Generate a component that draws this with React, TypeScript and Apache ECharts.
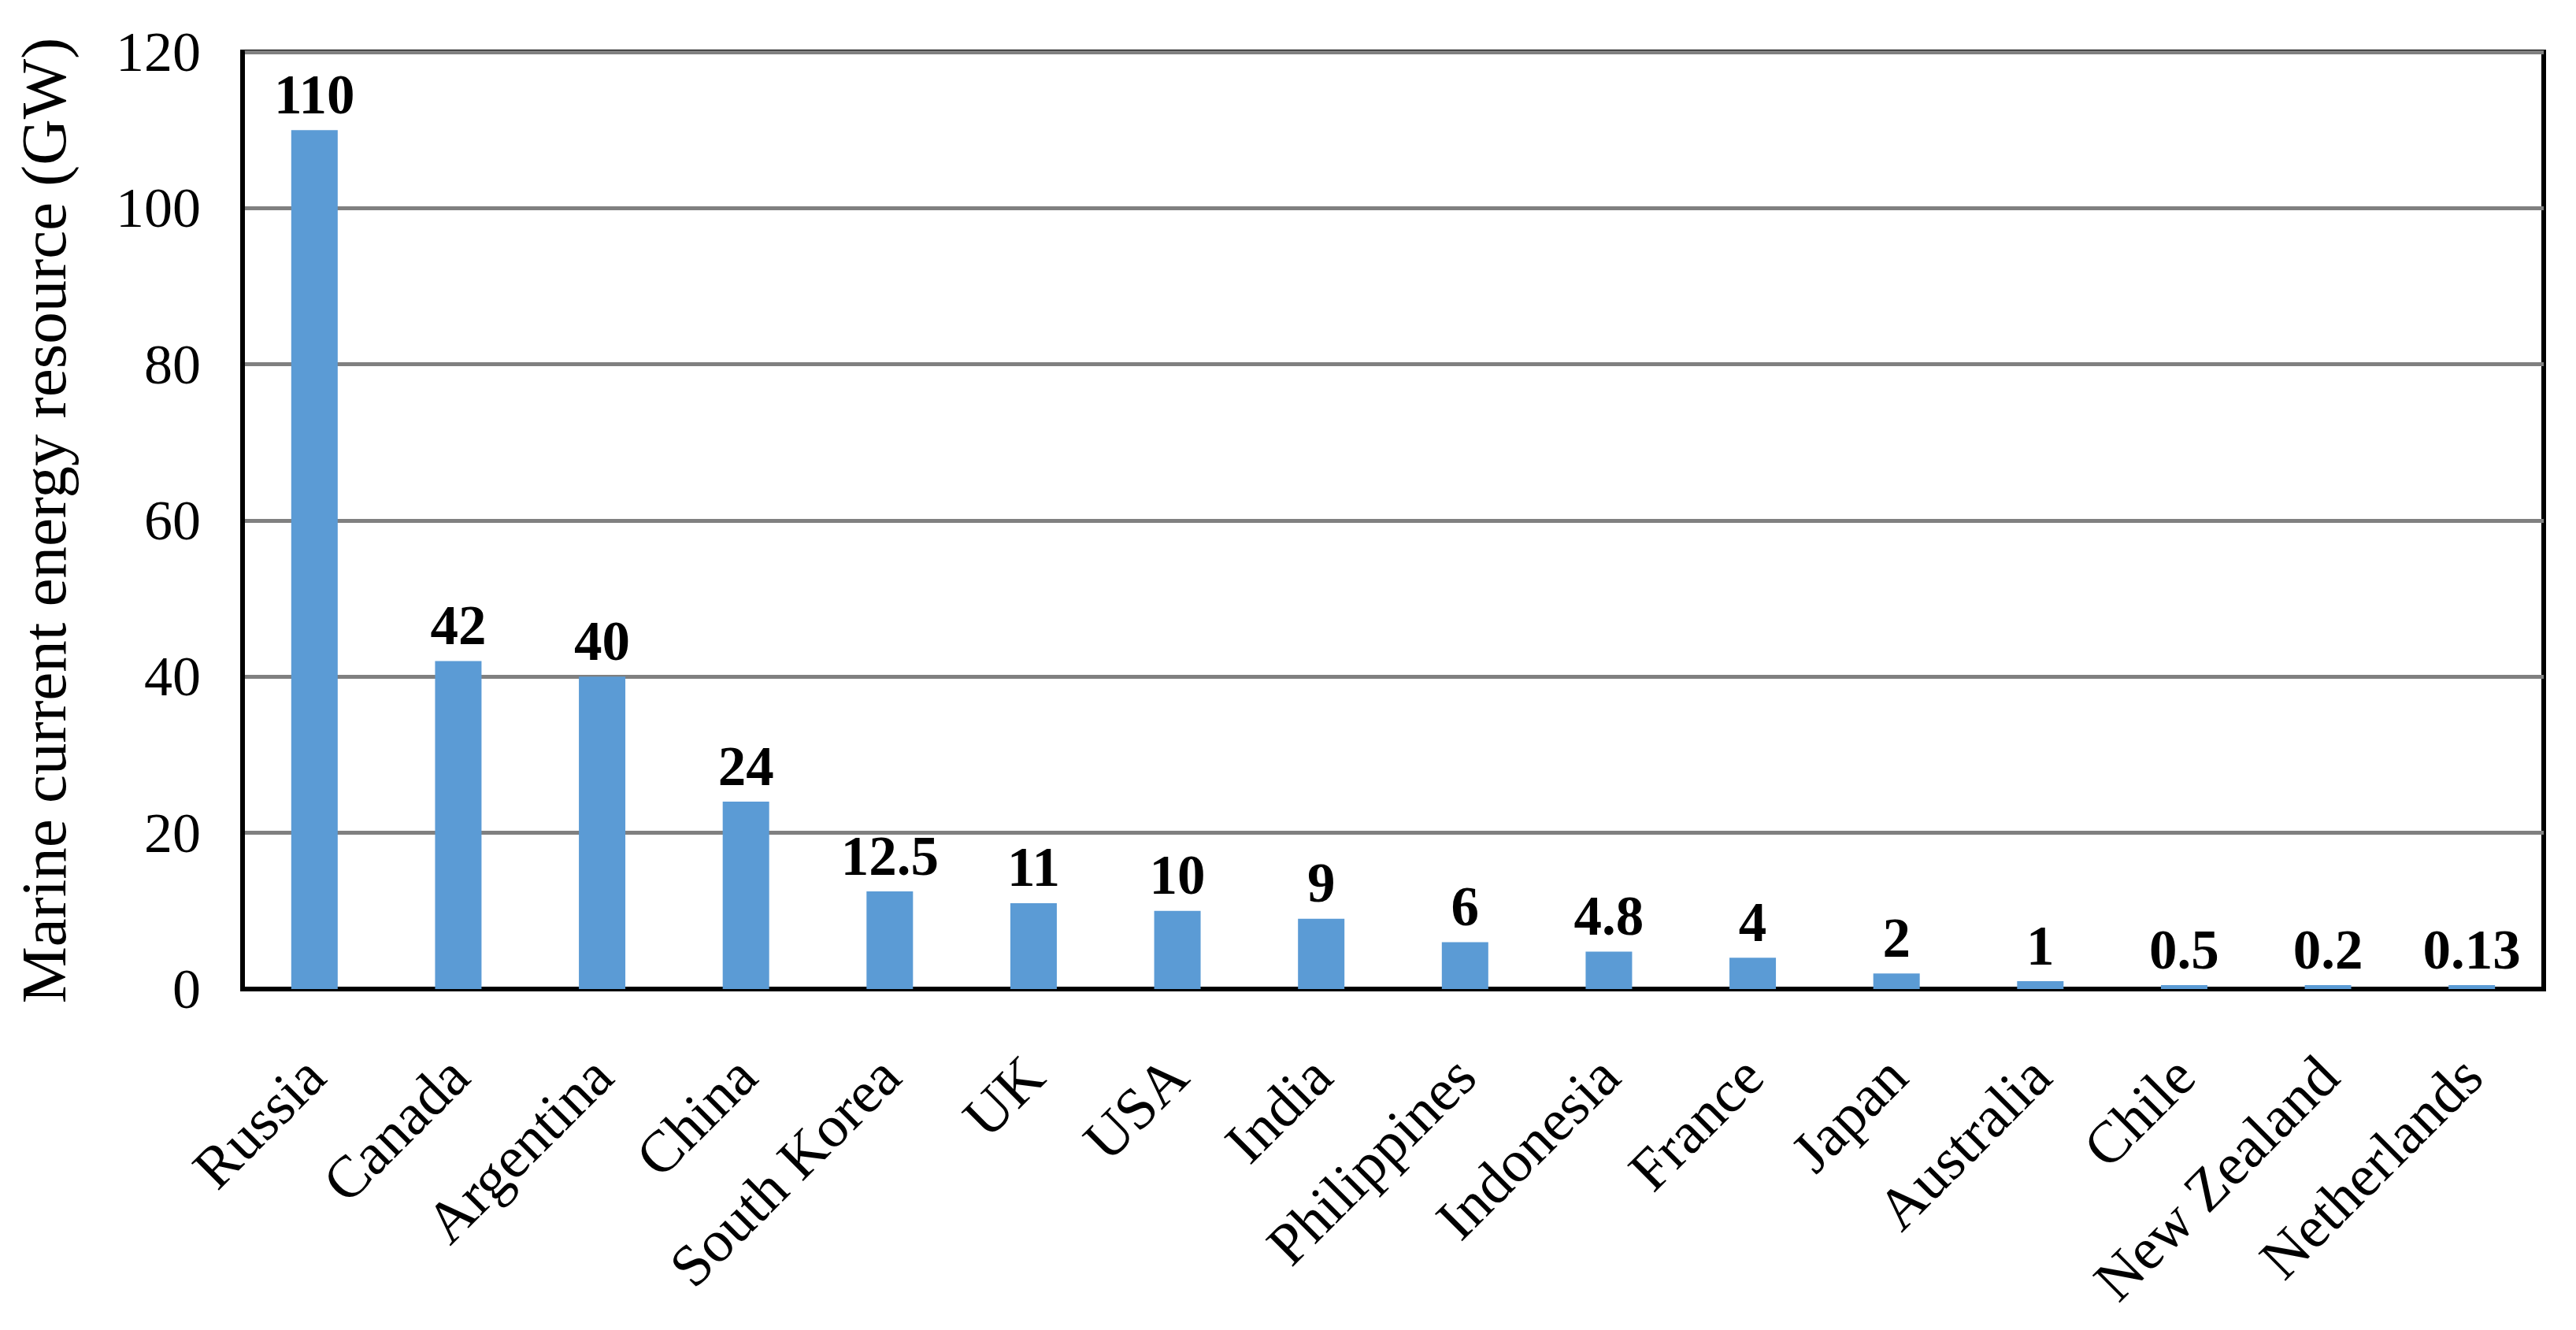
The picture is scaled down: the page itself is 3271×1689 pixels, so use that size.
import React, { useEffect, useRef } from "react";
import * as echarts from "echarts";

const categories = [
  "Russia", "Canada", "Argentina", "China", "South Korea", "UK", "USA", "India",
  "Philippines", "Indonesia", "France", "Japan", "Australia", "Chile", "New Zealand", "Netherlands",
];
const values = [110, 42, 40, 24, 12.5, 11, 10, 9, 6, 4.8, 4, 2, 1, 0.5, 0.2, 0.13];
const yTicks = { min: 0, max: 120, interval: 20 };
const yTitle = "Marine current energy resource (GW)";

const FONT = "'Liberation Serif', 'Times New Roman', serif";

export default function App() {
  const ref = useRef<HTMLDivElement>(null);
  useEffect(() => {
    document.body.style.margin = "0";
    const chart = echarts.init(ref.current!, null, { renderer: "svg" });
    chart.setOption({
      animation: false,
      backgroundColor: "#fff",
      grid: {
        left: 308,
        right: 41,
        top: 66,
        bottom: 433,
        show: true,
        borderColor: "#000",
        borderWidth: 6,
        containLabel: false,
      },
      xAxis: {
        type: "category",
        data: categories,
        axisLine: { show: true, lineStyle: { color: "#000", width: 6 } },
        axisTick: { show: false },
        axisLabel: {
          rotate: 45,
          interval: 0,
          margin: 98,
          color: "#000",
          fontFamily: FONT,
          fontSize: 75,
        },
      },
      yAxis: {
        type: "value",
        min: yTicks.min,
        max: yTicks.max,
        interval: yTicks.interval,
        name: yTitle,
        nameLocation: "middle",
        nameGap: 212,
        nameTextStyle: { color: "#000", fontFamily: FONT, fontSize: 81 },
        axisLine: { show: true, lineStyle: { color: "#000", width: 6 } },
        axisTick: { show: false },
        axisLabel: { color: "#000", fontFamily: FONT, fontSize: 72, margin: 53 },
        splitLine: { show: true, lineStyle: { color: "#808080", width: 5 } },
      },
      series: [
        {
          type: "bar",
          data: values,
          barWidth: 59,
          barMinHeight: 5,
          itemStyle: { color: "#5B9BD5" },
          label: {
            show: true,
            position: "top",
            distance: 10,
            color: "#000",
            fontFamily: FONT,
            fontWeight: "bold",
            fontSize: 71,
          },
        },
      ],
    });
    return () => chart.dispose();
  }, []);
  return <div ref={ref} style={{ width: 3271, height: 1689 }} />;
}
